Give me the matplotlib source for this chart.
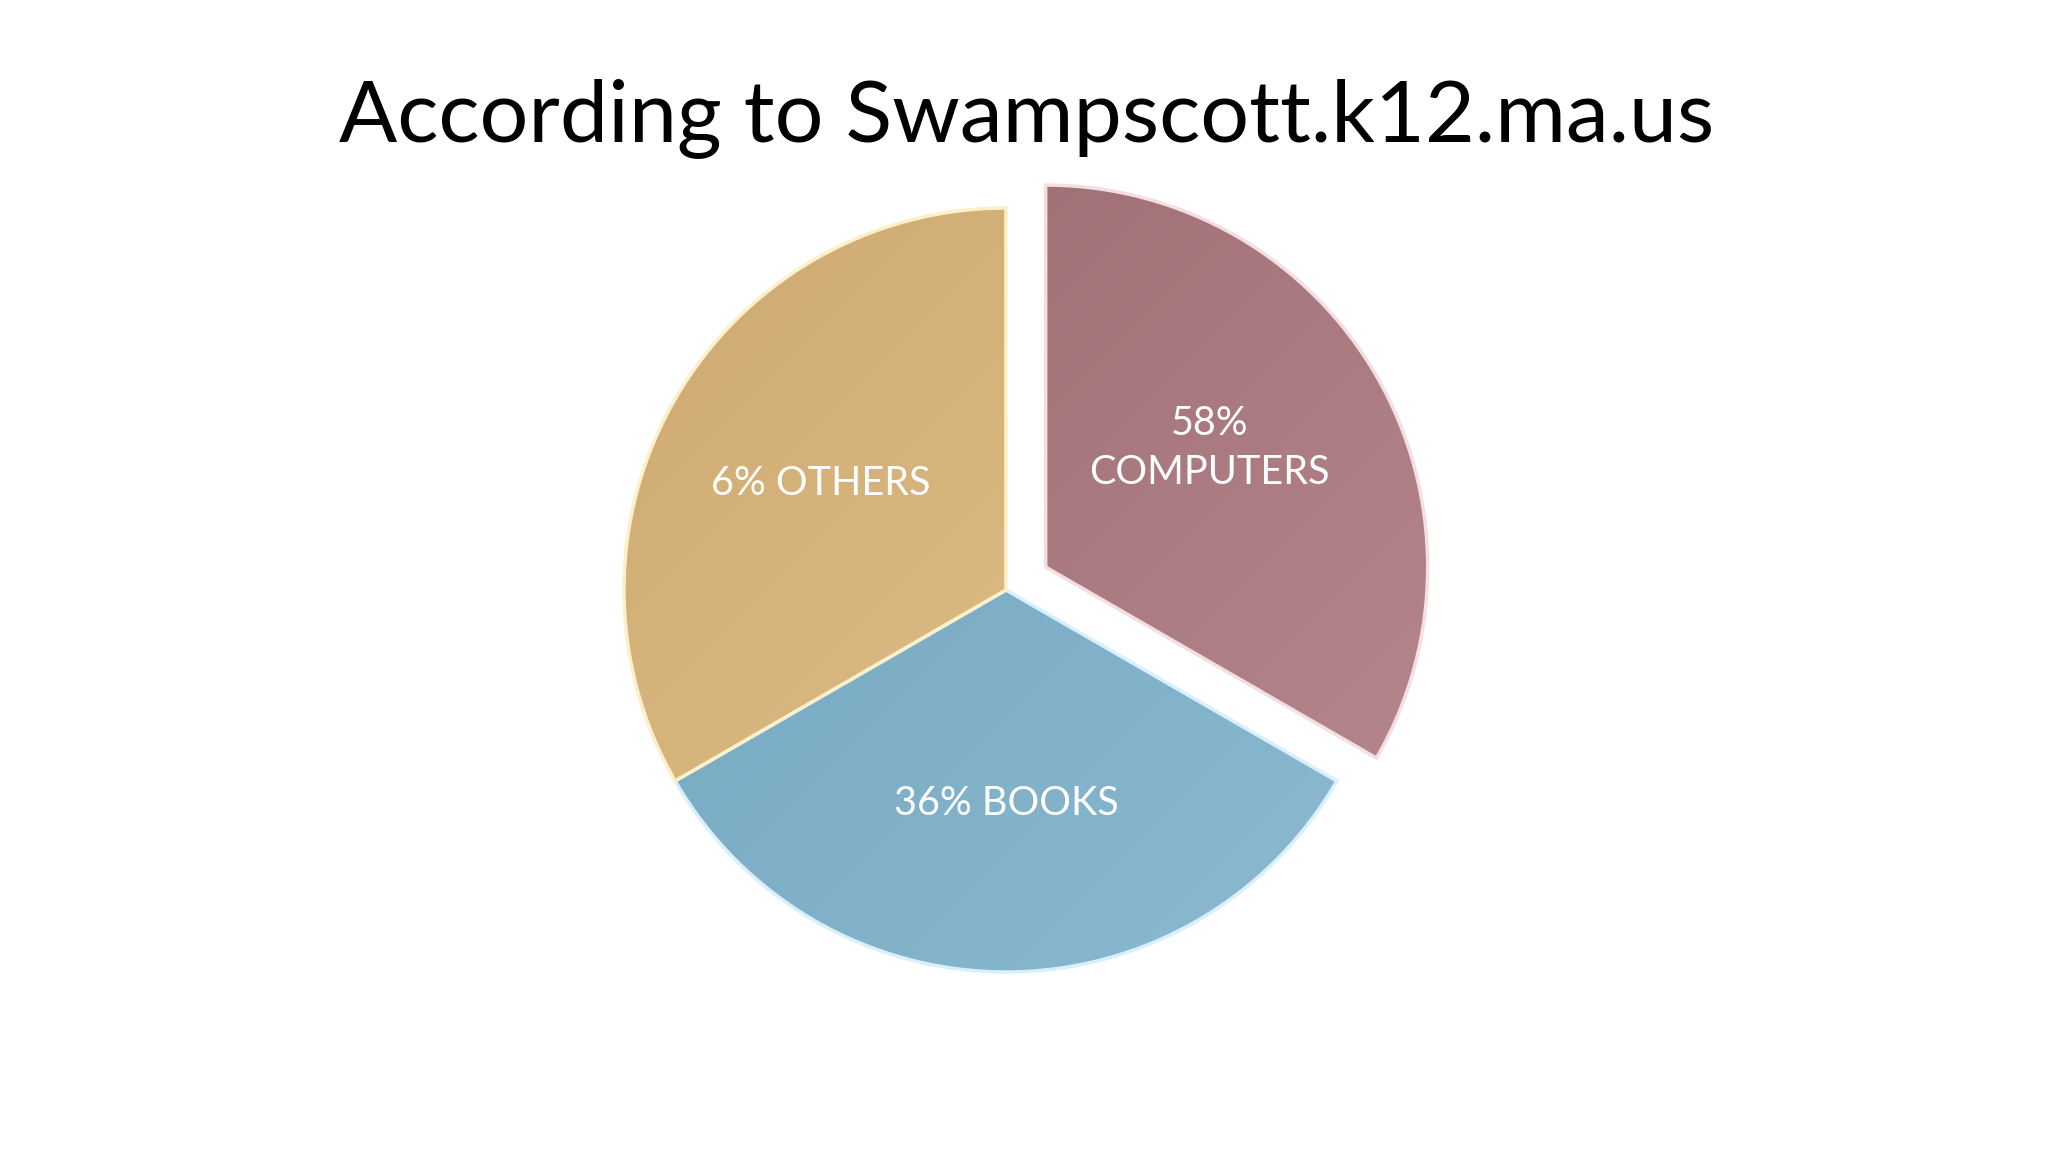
import matplotlib

matplotlib.use("Agg")
import matplotlib.pyplot as plt
import numpy as np
from matplotlib.colors import LinearSegmentedColormap

# slices are drawn equal in the original slide, labels carry the percentages
categories = ["COMPUTERS", "BOOKS", "OTHERS"]
percents = ["58%", "36%", "6%"]
slice_sizes = [1, 1, 1]
label_texts = ["58%\nCOMPUTERS", "36% BOOKS", "6% OTHERS"]

# dark (upper-left) -> light (lower-right) shades per slice
dark_colors = ["#9a686e", "#6ea3bd", "#cda86f"]
light_colors = ["#b88b90", "#8dbbd1", "#e4c892"]
edge_colors = ["#f3dfe2", "#d8f0fb", "#fbf0c8"]
explode = [0.12, 0, 0]

plt.rcParams["font.family"] = ["Lato", "DejaVu Sans"]

fig = plt.figure(figsize=(20.48, 11.52), dpi=100)
fig.patch.set_facecolor("white")

# pie axes: centre ~ (1006, 590) px, radius ~ 382 px
radius_px = 382
cx, cy = 1006, 590
half = 1.5 * radius_px
ax = fig.add_axes([(cx - half) / 2048, 1 - (cy + half) / 1152, 2 * half / 2048, 2 * half / 1152])

wedges, texts = ax.pie(
    slice_sizes,
    labels=label_texts,
    colors=light_colors,
    explode=explode,
    startangle=90,
    counterclock=False,
    labeldistance=0.56,
    radius=1.0,
    wedgeprops={"edgecolor": "none"},
    textprops={"color": "white", "fontsize": 28.5, "ha": "center", "va": "center",
               "linespacing": 1.4},
)

# diagonal gradient fill clipped to each wedge
gy, gx = np.mgrid[1:-1:300j, -1:1:300j]
grad = (gx - gy + 2) / 4.0
for wedge, dark, light, edge in zip(wedges, dark_colors, light_colors, edge_colors):
    cmap = LinearSegmentedColormap.from_list("g", [dark, light])
    ox, oy = wedge.center
    im = ax.imshow(grad, cmap=cmap, extent=[ox - 1.05, ox + 1.05, oy - 1.05, oy + 1.05],
                   origin="upper", zorder=wedge.get_zorder(), interpolation="bilinear")
    im.set_clip_path(wedge)
    wedge.set_facecolor("none")
    wedge.set_edgecolor(edge)
    wedge.set_linewidth(2.5)
    wedge.set_zorder(im.get_zorder() + 0.1)

ax.set_xlim(-1.5, 1.5)
ax.set_ylim(-1.5, 1.5)
ax.set_aspect("equal")
ax.axis("off")

# computers label sits a little higher inside its wedge
ox, oy = wedges[0].center
ang = np.deg2rad(36)
texts[0].set_position((ox + 0.53 * np.cos(ang), oy + 0.53 * np.sin(ang)))

for t in texts:
    t.set_zorder(5)

fig.text(0.5015, 1 - 141 / 1152, "According to Swampscott.k12.ma.us",
         ha="center", va="baseline", fontsize=62, color="black")

fig.savefig("out.png", dpi=100, facecolor="white")
